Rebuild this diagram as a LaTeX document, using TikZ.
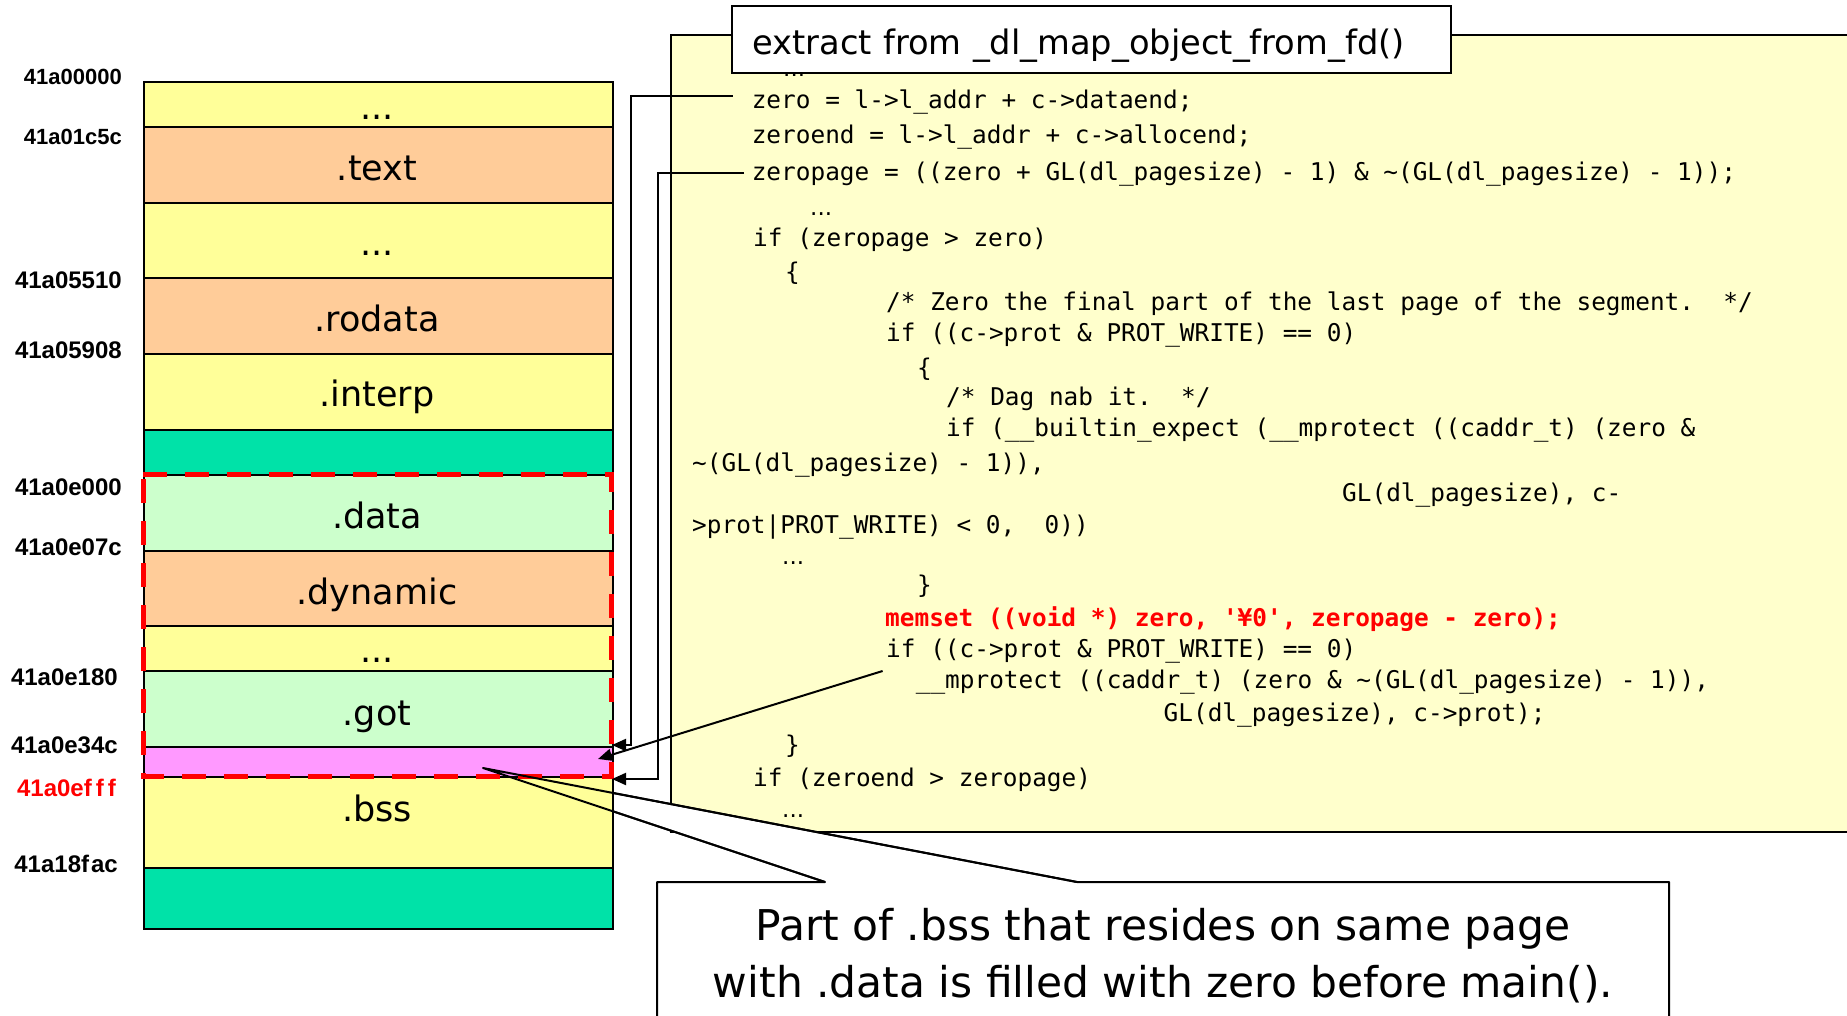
\documentclass[tikz,border=0pt]{standalone}
\usepackage{fontspec}
\setmainfont{DejaVu Sans}
\newfontfamily\codefont{DejaVu Sans Mono}
\newfontfamily\addrfont{Liberation Sans}
\usetikzlibrary{arrows.meta}

\definecolor{segyellow}{HTML}{FFFF99}
\definecolor{segorange}{HTML}{FFCC99}
\definecolor{segteal}{HTML}{00E2A8}
\definecolor{seggreen}{HTML}{CCFFCC}
\definecolor{segpink}{HTML}{FF99FF}
\definecolor{codebg}{HTML}{FFFFCC}

\tikzset{
  seg/.style={draw=black, line width=2pt, minimum width=469pt, inner sep=0pt,
    anchor=north west, text height=0pt, text depth=0pt},
  seglabel/.style={anchor=base, inner sep=0pt, font=\fontsize{35}{40}\selectfont},
  addr/.style={anchor=east, inner sep=0pt, font=\addrfont\bfseries\fontsize{24}{28}\selectfont},
  addrsmall/.style={addr, font=\addrfont\bfseries\fontsize{22}{26}\selectfont},
  codeline/.style={anchor=base west, inner sep=0pt, font=\codefont\fontsize{24.4}{28}\selectfont},
  codedots/.style={anchor=base west, inner sep=0pt, text height=4pt, text depth=0pt,
    font=\fontsize{23}{28}\selectfont},
  boldred/.style={codeline, text=red, font=\codefont\bfseries\fontsize{24.4}{28}\selectfont},
  ptr/.style={line width=2pt, -{Triangle[length=14pt,width=12pt]}},
  thinline/.style={line width=2pt},
}

\begin{document}
\begin{tikzpicture}[x=1pt, y=-1pt]
\useasboundingbox (0,0) rectangle (1847,1015);

% ---------- code listing box ----------
\path[fill=codebg, draw=black, line width=2pt] (671,35) rectangle (1870,832);

\node[codedots] (cdots0) at (783,76) {...};
\node[codeline] (czero) at (751.6,108) {zero = l->l\_addr + c->dataend;};
\node[codeline] (czeroend) at (751.6,143) {zeroend = l->l\_addr + c->allocend;};
\node[codeline] (czeropage) at (751.6,180) {zeropage = ((zero + GL(dl\_pagesize) - 1) \& \textasciitilde(GL(dl\_pagesize) - 1));};
\node[codedots] (cdots1) at (810,215) {...};
\node[codeline] (cif1) at (753,246) {if (zeropage > zero)};
\node[codeline] (cbr1) at (785,280) {\{};
\node[codeline] (ccom1) at (886,310) {/* Zero the final part of the last page of the segment.\ \ */};
\node[codeline] (cif2) at (886,341) {if ((c->prot \& PROT\_WRITE) == 0)};
\node[codeline] (cbr2) at (917,376) {\{};
\node[codeline] (ccom2) at (946,405) {/* Dag nab it.\ \ */};
\node[codeline] (cif3) at (946,436) {if (\_\_builtin\_expect (\_\_mprotect ((caddr\_t) (zero \&};
\node[codeline] (cwrap1) at (692,471) {\textasciitilde(GL(dl\_pagesize) - 1)),};
\node[codeline] (cwrap2) at (1342,501) {GL(dl\_pagesize), c-};
\node[codeline] (cwrap3) at (692,533) {>prot|PROT\_WRITE) < 0,\ \ 0))};
\node[codedots] (cdots2) at (782,564) {...};
\node[codeline] (cbr3) at (917,593) {\}};
\node[boldred] (cmemset) at (885,626) {memset ((void *) zero, \textquotesingle¥0\textquotesingle, zeropage - zero);};
\node[codeline] (cif4) at (886,657) {if ((c->prot \& PROT\_WRITE) == 0)};
\node[codeline] (cmprot) at (915.6,688) {\_\_mprotect ((caddr\_t) (zero \& \textasciitilde(GL(dl\_pagesize) - 1)),};
\node[codeline] (cmprot2) at (1163.5,721) {GL(dl\_pagesize), c->prot);};
\node[codeline] (cbr4) at (785,753) {\}};
\node[codeline] (cif5) at (753,786) {if (zeroend > zeropage)};
\node[codedots] (cdots3) at (782,817) {...};

% ---------- heading of the listing ----------
\node[draw=black, fill=white, line width=2pt, anchor=north west, inner xsep=20.6pt,
  inner ysep=0pt, text width=678pt, align=left, text height=48.3pt, text depth=18.7pt,
  font=\fontsize{33.7}{40}\selectfont] (title) at (731,4.7)
  {extract from \_dl\_map\_object\_from\_fd()};

% ---------- callout with its pointer ----------
\coordinate (noteTip) at (483,768);
\coordinate (wedgeA) at (825,882);
\coordinate (wedgeB) at (1077,882);
\path[fill=white, draw=black, line width=2pt, line join=round]
  (657,1040) -- (657,882) -- (wedgeA) -- (noteTip) -- (wedgeB) -- (1669,882) -- (1669,1040);
\node[anchor=north, inner sep=0pt, align=center,
  font=\fontsize{42.4}{57}\selectfont] (note) at (1163,908)
  {Part of .bss that resides on same page\\with .data is filled with zero before main().};

% ---------- memory layout column ----------
\node[seg, fill=segyellow, minimum height=45.3pt] (sTop)    at (142.5,80.7)  {};
\node[seg, fill=segorange, minimum height=75.7pt] (sText)   at (142.5,126)   {};
\node[seg, fill=segyellow, minimum height=75.3pt] (sGap)    at (142.5,201.7) {};
\node[seg, fill=segorange, minimum height=76pt]   (sRodata) at (142.5,277)   {};
\node[seg, fill=segyellow, minimum height=76pt]   (sInterp) at (142.5,353)   {};
\node[seg, fill=segteal,   minimum height=45pt]   (sPad)    at (142.5,429)   {};
\node[seg, fill=seggreen,  minimum height=76pt]   (sData)   at (142.5,474)   {};
\node[seg, fill=segorange, minimum height=75pt]   (sDyn)    at (142.5,550)   {};
\node[seg, fill=segyellow, minimum height=45pt]   (sMid)    at (142.5,625)   {};
\node[seg, fill=seggreen,  minimum height=76pt]   (sGot)    at (142.5,670)   {};
\node[seg, fill=segpink,   minimum height=30pt]   (sZero)   at (142.5,746)   {};
\node[seg, fill=segyellow, minimum height=91pt]   (sBss)    at (142.5,776)   {};
\node[seg, fill=segteal,   minimum height=61pt]   (sEnd)    at (142.5,867)   {};

\node[seglabel] (lTop)    at (377,119)   {...};
\node[seglabel] (lText)   at (377,180)   {.text};
\node[seglabel] (lGap)    at (377,255)   {...};
\node[seglabel] (lRodata) at (377,331)   {.rodata};
\node[seglabel] (lInterp) at (377,406.7) {.interp};
\node[seglabel] (lData)   at (377,528)   {.data};
\node[seglabel] (lDyn)    at (377,604)   {.dynamic};
\node[seglabel] (lMid)    at (377,662)   {...};
\node[seglabel] (lGot)    at (377,725)   {.got};
\node[seglabel] (lBss)    at (377,821.7) {.bss};

% ---------- addresses ----------
\node[addrsmall] (a0) at (122,77)  {41a00000};
\node[addrsmall] (a1) at (122,137) {41a01c5c};
\node[addr] (a2) at (122,280) {41a05510};
\node[addr] (a3) at (122,350) {41a05908};
\node[addr] (a4) at (122,487) {41a0e000};
\node[addr] (a5) at (122,547) {41a0e07c};
\node[addr] (a6) at (118,677) {41a0e180};
\node[addr] (a7) at (118,745) {41a0e34c};
\node[addr, text=red] (a8) at (116,788) {41a0ef\kern4pt f\kern4pt f};
\node[addr] (a9) at (118,864) {41a18f\kern2pt ac};

% ---------- page holding .data (dashed) ----------
\draw[red, line width=5pt, dash pattern=on 24pt off 18pt, dash phase=-5pt]
  (143,474) rectangle (611.5,776);

% ---------- pointers from the listing into the column ----------
\coordinate (zeroHit) at (612,745);
\coordinate (zeroBend) at (631,745);
\coordinate (pageHit) at (612,779);
\coordinate (pageBend) at (658,779);
\coordinate (memHit) at (598,759);

\draw[ptr] ([shift={(-19,-12)}]czero.base west) -| (zeroBend) -- (zeroHit);
\draw[ptr] ([shift={(-7.6,-7.3)}]czeropage.base west) -| (pageBend) -- (pageHit);
\draw[ptr] ([shift={(-33,-17)}]cmprot.base west) -- (memHit);

% pointer edges of the callout, drawn over the column
\draw[thinline, line join=round] (wedgeA) -- (noteTip) -- (wedgeB);

\end{tikzpicture}
\end{document}
